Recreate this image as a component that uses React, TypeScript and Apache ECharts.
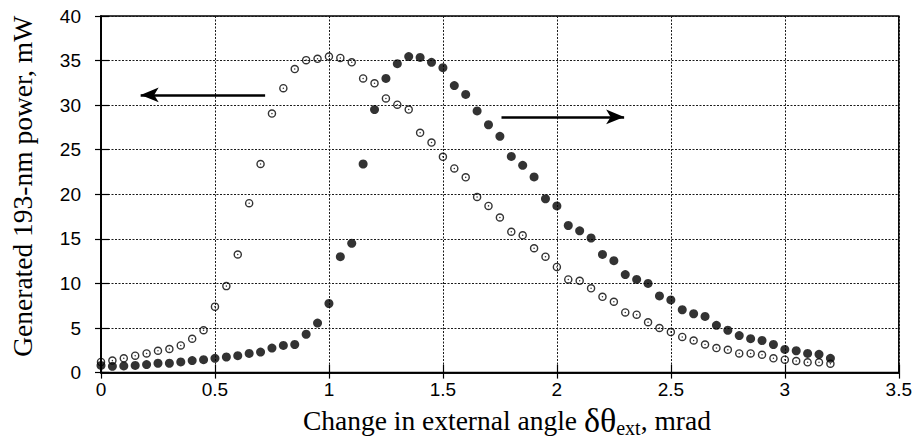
import React, { useEffect, useRef } from "react";
import * as echarts from "echarts";

// Change in external angle (mrad)
const angles = [
  0, 0.05, 0.1, 0.15, 0.2, 0.25, 0.3, 0.35, 0.4, 0.45,
  0.5, 0.55, 0.6, 0.65, 0.7, 0.75, 0.8, 0.85, 0.9, 0.95,
  1.0, 1.05, 1.1, 1.15, 1.2, 1.25, 1.3, 1.35, 1.4, 1.45,
  1.5, 1.55, 1.6, 1.65, 1.7, 1.75, 1.8, 1.85, 1.9, 1.95,
  2.0, 2.05, 2.1, 2.15, 2.2, 2.25, 2.3, 2.35, 2.4, 2.45,
  2.5, 2.55, 2.6, 2.65, 2.7, 2.75, 2.8, 2.85, 2.9, 2.95,
  3.0, 3.05, 3.1, 3.15, 3.2,
];

// Open circles (left arrow)
const openPower = [
  1.2, 1.35, 1.6, 1.9, 2.15, 2.45, 2.65, 3.05, 3.8, 4.75,
  7.4, 9.7, 13.25, 19.0, 23.4, 29.05, 31.9, 34.05, 35.05, 35.2,
  35.45, 35.3, 34.8, 33.0, 32.45, 30.75, 30.05, 29.5, 26.9, 25.8,
  24.2, 22.9, 21.9, 19.7, 18.7, 17.4, 15.8, 15.4, 13.95, 13.0,
  11.85, 10.45, 10.3, 9.45, 8.5, 7.95, 6.75, 6.5, 5.65, 5.0,
  4.55, 4.0, 3.6, 3.15, 2.75, 2.55, 2.15, 2.15, 2.0, 1.6,
  1.45, 1.3, 1.15, 1.15, 1.0,
];

// Filled circles (right arrow)
const filledPower = [
  0.8, 0.7, 0.75, 0.8, 0.9, 1.05, 1.05, 1.2, 1.35, 1.45,
  1.6, 1.75, 1.9, 2.15, 2.3, 2.75, 3.05, 3.15, 4.3, 5.55,
  7.75, 13.0, 14.5, 23.4, 29.5, 33.0, 34.65, 35.45, 35.35, 34.8,
  34.2, 32.2, 31.2, 29.35, 27.8, 26.5, 24.25, 23.25, 21.95, 19.5,
  18.7, 16.5, 15.9, 15.1, 13.25, 12.55, 11.0, 10.45, 10.0, 8.6,
  8.15, 7.05, 6.6, 6.3, 5.3, 4.75, 4.15, 3.8, 3.6, 3.15,
  2.6, 2.45, 2.15, 2.05, 1.6,
];

// Arrow annotations: [start, tip] in data coordinates
const leftArrow = [[0.72, 31.15], [0.174, 31.15]];
const rightArrow = [[1.757, 28.68], [2.295, 28.68]];

const openSymbol =
  "path://M10,0A10,10,0,1,1,-10,0A10,10,0,1,1,10,0Z" +
  "M6.7,0A6.7,6.7,0,1,0,-6.7,0A6.7,6.7,0,1,0,6.7,0Z" +
  "M1.8,0A1.8,1.8,0,1,1,-1.8,0A1.8,1.8,0,1,1,1.8,0Z";

const SANS = "'Liberation Sans', Arial, Helvetica, sans-serif";
const SERIF = "'Liberation Serif', 'Times New Roman', serif";

export default function App() {
  const ref = useRef<HTMLDivElement>(null);

  useEffect(() => {
    if (!ref.current) return;
    const chart = echarts.init(ref.current, undefined, { renderer: "svg" });
    const gridLine = { show: true, lineStyle: { color: "#1a1a1a", width: 1, type: [2, 1.5] as any } };
    const option: any = {
      animation: false,
      backgroundColor: "#fff",
      grid: {
        left: 101,
        right: 14,
        top: 16,
        bottom: 62,
        show: true,
        borderColor: "#000",
        borderWidth: 1.5,
        backgroundColor: "transparent",
      },
      xAxis: [
        {
          type: "value",
          min: 0,
          max: 3.5,
          interval: 0.5,
          position: "bottom",
          axisLine: { show: true, lineStyle: { color: "#000", width: 1.5 } },
          axisTick: { show: true, inside: true, length: 8, lineStyle: { color: "#000", width: 1.2 } },
          axisLabel: { color: "#000", fontSize: 19, fontFamily: SANS, margin: 7 },
          splitLine: gridLine,
          name: "{a|Change in external angle }{b|δθ}{c|ext}{a|, mrad}",
          nameLocation: "middle",
          nameGap: 28,
          nameTextStyle: {
            padding: [0, 0, 0, 14],
            rich: {
              a: { fontSize: 27.5, fontFamily: SERIF, color: "#000" },
              b: { fontSize: 34, fontFamily: SERIF, color: "#000" },
              c: { fontSize: 20, fontFamily: SERIF, color: "#000", padding: [15, 0, 0, 0] },
            },
          },
        },
        {
          type: "value",
          min: 0,
          max: 3.5,
          interval: 0.5,
          position: "top",
          axisLine: { show: true, lineStyle: { color: "#000", width: 1.5 } },
          axisTick: { show: true, inside: true, length: 6, lineStyle: { color: "#000", width: 1.2 } },
          axisLabel: { show: false },
          splitLine: { show: false },
        },
      ],
      yAxis: [
        {
          type: "value",
          min: 0,
          max: 40,
          interval: 5,
          position: "left",
          axisLine: { show: true, lineStyle: { color: "#000", width: 1.5 } },
          axisTick: { show: true, inside: true, length: 8, lineStyle: { color: "#000", width: 1.2 } },
          axisLabel: { color: "#000", fontSize: 19, fontFamily: SANS, margin: 20, padding: [0, 0, 8, 0] },
          splitLine: gridLine,
          name: "Generated 193-nm power, mW",
          nameLocation: "middle",
          nameGap: 65,
          nameTextStyle: { fontSize: 27.5, fontFamily: SERIF, color: "#000", padding: [0, 0, 0, 16] },
        },
        {
          type: "value",
          min: 0,
          max: 40,
          interval: 5,
          position: "right",
          axisLine: { show: true, lineStyle: { color: "#000", width: 1.5 } },
          axisTick: { show: true, inside: true, length: 6, lineStyle: { color: "#000", width: 1.2 } },
          axisLabel: { show: false },
          splitLine: { show: false },
        },
      ],
      series: [
        {
          name: "filled",
          type: "scatter",
          symbol: "circle",
          symbolSize: 9,
          itemStyle: { color: "#000" },
          data: angles.map((x, i) => [x, filledPower[i]]),
          markLine: {
            silent: true,
            symbol: ["none", "arrow"],
            symbolSize: [11, 18],
            label: { show: false },
            lineStyle: { color: "#000", width: 2.7, type: "solid" },
            data: [
              [{ coord: leftArrow[0] }, { coord: leftArrow[1] }],
              [{ coord: rightArrow[0] }, { coord: rightArrow[1] }],
            ],
          },
        },
        {
          name: "open",
          type: "scatter",
          symbol: openSymbol,
          symbolSize: 8.5,
          itemStyle: { color: "#000" },
          data: angles.map((x, i) => [x, openPower[i]]),
        },
      ],
    };
    chart.setOption(option);
    return () => chart.dispose();
  }, []);

  return (
    <div
      ref={ref}
      style={{ position: "absolute", left: 0, top: 0, width: 915, height: 443, background: "#fff" }}
    />
  );
}
